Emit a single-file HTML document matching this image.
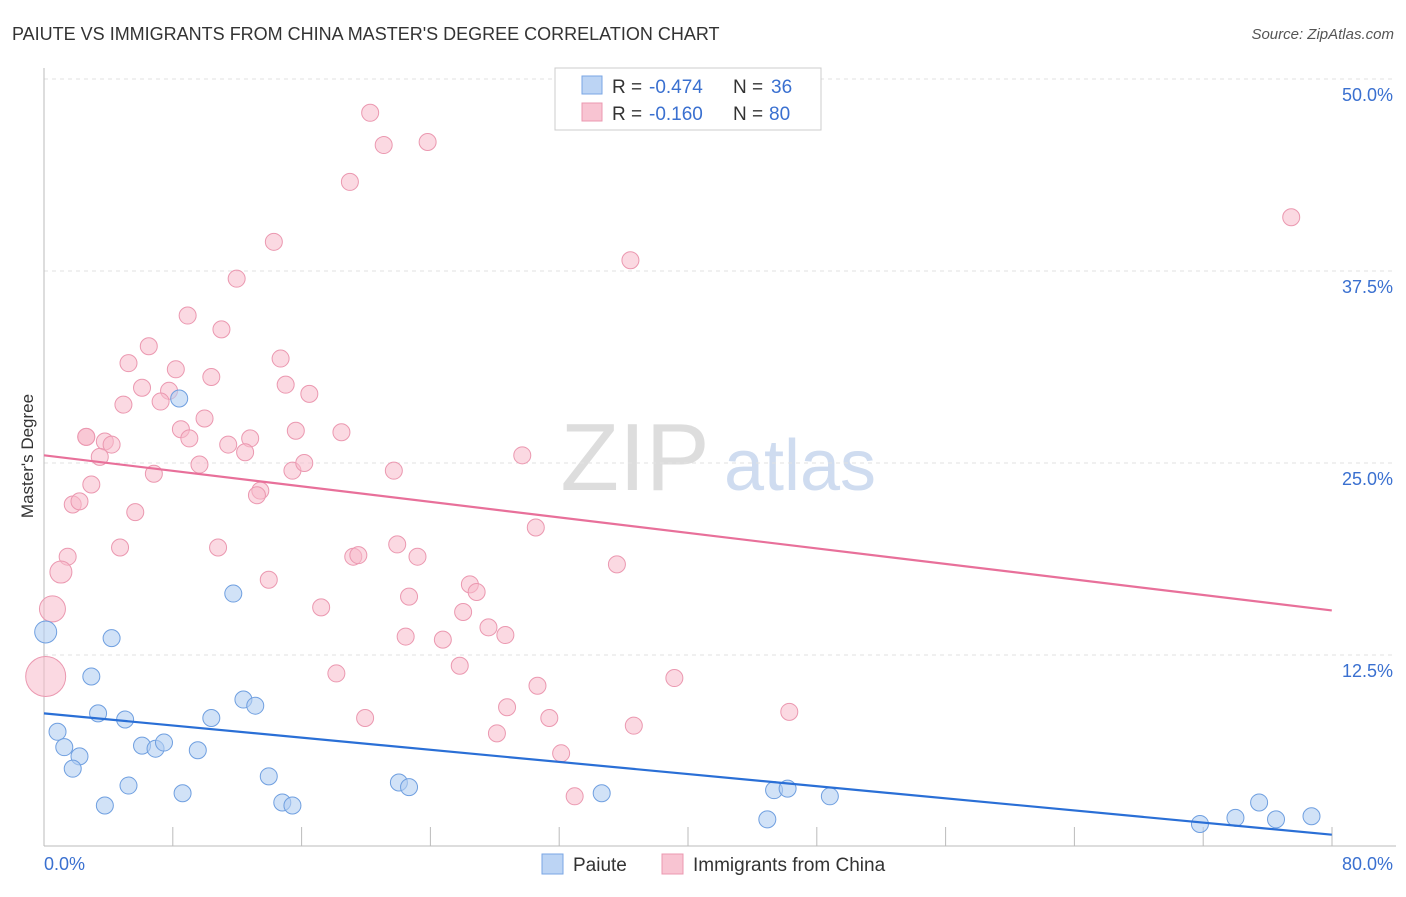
<!DOCTYPE html>
<html><head><meta charset="utf-8"><style>
body{margin:0;background:#fff;font-family:"Liberation Sans",sans-serif}
svg text{font-family:"Liberation Sans",sans-serif}
</style></head><body>
<svg id="c" width="1406" height="892">
<text x="12" y="40" font-size="18" fill="#333">PAIUTE VS IMMIGRANTS FROM CHINA MASTER'S DEGREE CORRELATION CHART</text>
<text x="1394" y="39" font-size="15" fill="#555" text-anchor="end" font-style="italic">Source: ZipAtlas.com</text>
<text x="33" y="456" font-size="17" fill="#333" text-anchor="middle" transform="rotate(-90 33 456)">Master's Degree</text>
<g><text x="635" y="490" font-size="96" fill="#ddd" text-anchor="middle" font-family="Liberation Serif">ZIP</text><text x="800" y="490" font-size="72" fill="#cfdcf0" text-anchor="middle">atlas</text></g>
<g id="grid"></g><g id="axes"></g><g id="pts"></g><g id="lines"></g>
<g>
<rect x="555" y="68" width="266" height="62" fill="#fff" stroke="#ccc"/>
<rect x="582" y="76" width="20" height="18" fill="#bcd4f4" stroke="#7aa6e4"/>
<rect x="582" y="103" width="20" height="18" fill="#f8c4d2" stroke="#eb98b0"/>
<text x="612" y="93" font-size="19" fill="#333">R =</text><text x="649" y="93" font-size="19" fill="#3a70d0">-0.474</text>
<text x="733" y="93" font-size="19" fill="#333">N =</text><text x="771" y="93" font-size="19" fill="#3a70d0">36</text>
<text x="612" y="120" font-size="19" fill="#333">R =</text><text x="649" y="120" font-size="19" fill="#3a70d0">-0.160</text>
<text x="733" y="120" font-size="19" fill="#333">N =</text><text x="769" y="120" font-size="19" fill="#3a70d0">80</text>
</g>
<g>
<rect x="542" y="854" width="21" height="20" fill="#bcd4f4" stroke="#7aa6e4"/>
<text x="573" y="871" font-size="19" fill="#333">Paiute</text>
<rect x="662" y="854" width="21" height="20" fill="#f8c4d2" stroke="#eb98b0"/>
<text x="693" y="871" font-size="19" fill="#333">Immigrants from China</text>
</g>
</svg>
<script>
const yTicks=[12.5,25.0,37.5,50.0];
const yTickLabels=["12.5%","25.0%","37.5%","50.0%"];
const xTickLabels=["0.0%","80.0%"];
const blueX=[0.1,4.0,2.8,8.0,11.2,3.2,4.8,0.8,1.2,2.1,1.7,5.8,6.6,7.1,9.1,9.9,11.8,12.5,5.0,3.6,8.2,13.3,14.1,14.7,21.0,21.6,33.0,43.2,44.0,46.5,42.8,68.4,70.5,71.9,72.9,75.0];
const blueY=[14.0,13.6,11.1,29.2,16.5,8.7,8.3,7.5,6.5,5.9,5.1,6.6,6.4,6.8,6.3,8.4,9.6,9.2,4.0,2.7,3.5,4.6,2.9,2.7,4.2,3.9,3.5,3.7,3.8,3.3,1.8,1.5,1.9,2.9,1.8,2.0];
const pinkX=[19.3,20.1,22.7,18.1,13.6,11.4,34.7,73.8,8.5,10.5,6.2,5.0,14.0,7.8,9.9,5.8,7.4,14.3,15.7,4.7,6.9,9.5,8.1,2.5,3.6,4.0,8.6,10.9,12.2,14.9,17.6,3.3,11.9,9.2,6.5,14.7,15.4,20.7,28.3,2.8,12.8,12.6,1.7,2.1,5.4,29.1,4.5,10.3,1.4,1.0,0.5,20.9,18.3,18.6,22.1,33.9,13.3,25.2,25.6,21.6,16.4,24.8,26.3,27.3,21.4,23.6,24.6,17.3,37.3,29.2,27.4,19.0,29.9,34.9,26.8,30.6,31.4,44.1,0.1,2.5];
const pinkY=[47.8,45.7,45.9,43.3,39.4,37.0,38.2,41.0,34.6,33.7,32.6,31.5,31.8,31.1,30.6,29.9,29.7,30.1,29.5,28.8,29.0,27.9,27.2,26.7,26.4,26.2,26.6,26.2,26.6,27.1,27.0,25.4,25.7,24.9,24.3,24.5,25.0,24.5,25.5,23.6,23.2,22.9,22.3,22.5,21.8,20.8,19.5,19.5,18.9,17.9,15.5,19.7,18.9,19.0,18.9,18.4,17.4,17.1,16.6,16.3,15.6,15.3,14.3,13.8,13.7,13.5,11.8,11.3,11.0,10.5,9.1,8.4,8.4,7.9,7.4,6.1,3.3,8.8,11.1,26.7];
const blueTrend=[8.7,0.8];
const pinkTrend=[25.5,15.4];
const trendEnd=76.2;
const X=v=>44+v*16.9, Y=v=>847-v*15.36;
const NS="http://www.w3.org/2000/svg";
function mk(t,a,p){const e=document.createElementNS(NS,t);for(const k in a)e.setAttribute(k,a[k]);p.appendChild(e);return e;}
const grid=document.getElementById('grid'),axes=document.getElementById('axes');
yTicks.forEach((t,i)=>{
const g=mk('line',{x1:44,x2:1396,y1:Y(t),y2:Y(t),stroke:'#e2e2e2','stroke-dasharray':'4,4'},grid);


const tx=mk('text',{x:1393,y:Y(t)+22,'font-size':18,fill:'#3a70d0','text-anchor':'end'},axes);tx.textContent=yTickLabels[i];


});
const topLine=mk('line',{x1:44,x2:1396,y1:79,y2:79,stroke:'#e2e2e2','stroke-dasharray':'4,4'},grid);


mk('line',{x1:44,x2:44,y1:68,y2:846,stroke:'#bbb'},axes);
mk('line',{x1:44,x2:1396,y1:846,y2:846,stroke:'#bbb'},axes);
for(let i=1;i<=10;i++){mk('line',{x1:44+i*128.8,x2:44+i*128.8,y1:827,y2:846,stroke:'#bbb'},axes);}
const xl0=mk('text',{x:44,y:870,'font-size':18,fill:'#3a70d0'},axes);xl0.textContent=xTickLabels[0];


const xl1=mk('text',{x:1393,y:870,'font-size':18,fill:'#3a70d0','text-anchor':'end'},axes);xl1.textContent=xTickLabels[1];


const pts=document.getElementById('pts');
const pinkBig={50:13,49:11,78:20};
pinkX.forEach((x,i)=>{const c=mk('circle',{cx:X(x),cy:Y(pinkY[i]),r:pinkBig[i]||8.5,fill:'#f7b9cb','fill-opacity':0.55,stroke:'#eb98b0','stroke-width':1},pts);

});
const blueBig={0:11};
blueX.forEach((x,i)=>{const c=mk('circle',{cx:X(x),cy:Y(blueY[i]),r:blueBig[i]||8.5,fill:'#b3cff2','fill-opacity':0.6,stroke:'#6f9fe0','stroke-width':1},pts);

});
const lines=document.getElementById('lines');
const lp=mk('line',{x1:X(0),y1:Y(pinkTrend[0]),x2:X(trendEnd),y2:Y(pinkTrend[1]),stroke:'#e8709a','stroke-width':2.2},lines);


const lb=mk('line',{x1:X(0),y1:Y(blueTrend[0]),x2:X(trendEnd),y2:Y(blueTrend[1]),stroke:'#2a6fd6','stroke-width':2.2},lines);


</script>
</body></html>
